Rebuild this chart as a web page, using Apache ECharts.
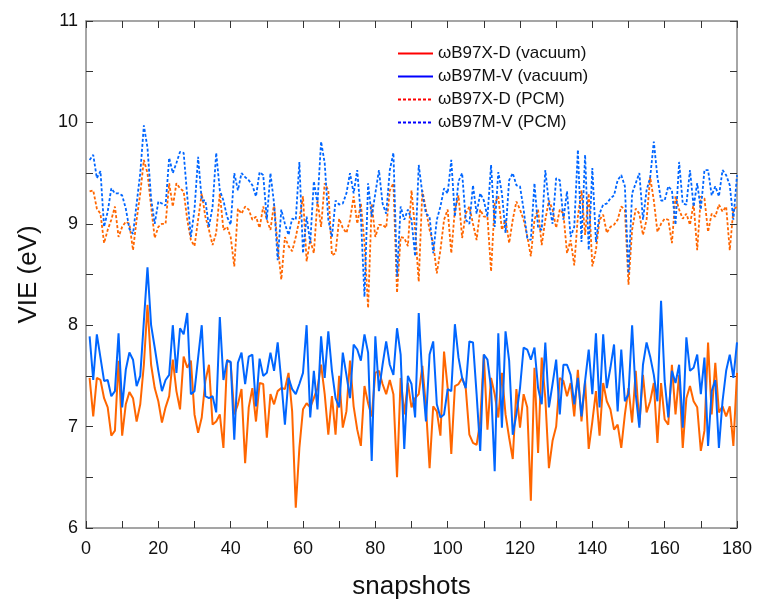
<!DOCTYPE html>
<html>
<head>
<meta charset="utf-8">
<script src="https://cdn.jsdelivr.net/npm/echarts@6/dist/echarts.min.js"></script>
<style>
  html, body { margin: 0; padding: 0; background: #fff; }
  #vie-chart { width: 760px; height: 605px; }
</style>
</head>
<body>
<div id="vie-chart"></div>
<script>
// VIE per snapshot, four methods
const xdVacuum = [
  7.48, 7.1, 7.48, 7.46, 7.28, 7.19, 6.91, 6.96, 7.65, 6.91, 7.22, 7.34, 7.28, 7.05, 7.22, 7.61, 8.2, 7.61, 7.38, 7.25, 7.04, 7.19, 7.3, 7.66,
  7.35, 7.17, 7.69, 7.58, 7.65, 7.12, 6.94, 7.09, 7.45, 7.61, 7.02, 7.05, 7.12, 6.79, 7.66, 7.63, 7.12, 7.22, 7.37, 6.64, 7.19, 7.38, 7.05, 7.43, 7.42, 6.89, 7.32, 7.22, 7.35, 7.38, 7.37,
  7.53, 7.15, 6.2, 6.79, 7.17, 7.23, 7.19, 7.28, 7.38, 7.61, 7.32, 6.92, 7.3, 6.92, 7.5, 6.99, 7.15, 7.65, 7.2, 6.97, 6.81, 7.4, 7.23, 7.1, 7.53, 7.55, 7.42, 7.32, 7.46, 7.32, 6.5,
  7.48, 7.12, 7.43, 7.19, 7.28, 7.32, 7.6, 7.19, 6.59, 7.2, 7.15, 6.91, 7.74, 7.38, 6.73, 7.4, 7.42, 7.48, 7.38, 6.92, 6.84, 6.82, 7.05, 7.71, 6.97, 7.48, 7.32, 7.09, 7.53, 7.12, 6.89,
  6.68, 7.37, 6.99, 7.32, 7.19, 6.27, 7.58, 6.74, 7.68, 7.28, 6.59, 6.86, 7.0, 7.48, 7.45, 7.3, 7.43, 7.1, 7.56, 7.05, 7.45, 6.78, 7.05, 7.35, 6.91, 7.43, 7.25, 7.17, 6.97, 7.02, 6.79, 7.12,
  7.38, 7.04, 7.55, 7.02, 7.51, 7.14, 7.25, 7.43, 6.84, 7.43, 7.07, 7.02, 7.61, 7.12, 7.51, 6.79, 7.28, 7.4, 7.25, 7.19, 6.76, 6.96, 7.83, 7.12, 7.63, 7.14, 7.2, 7.1, 7.2, 6.81, 7.53
]
const mvVacuum = [
  7.89, 7.46, 7.91, 7.68, 7.45, 7.46, 7.3, 7.35, 7.92, 7.19, 7.56, 7.73, 7.66, 7.4, 7.5, 8.04, 8.57, 8.0, 7.78, 7.55, 7.35, 7.46, 7.51, 8.0,
  7.53, 7.97, 7.91, 8.12, 7.32, 7.35, 7.68, 8.0, 7.3, 7.28, 7.3, 7.14, 8.08, 7.46, 7.65, 7.64, 6.87, 7.63, 7.73, 7.42, 7.69, 7.71, 7.2, 7.67, 7.5, 7.53, 7.73, 7.55, 7.83, 7.45, 7.02,
  7.48, 7.37, 7.32, 7.42, 7.53, 8.0, 7.09, 7.55, 7.17, 7.89, 7.48, 7.94, 7.55, 7.28, 7.19, 7.73, 7.51, 7.28, 7.81, 7.76, 7.65, 7.91, 7.73, 6.66, 7.89, 7.35, 7.61, 7.84, 7.61, 7.51, 7.97,
  7.71, 6.78, 7.5, 7.42, 7.09, 8.12, 7.48, 7.05, 7.71, 7.84, 7.22, 7.09, 7.12, 7.37, 7.35, 8.01, 7.68, 7.48, 7.38, 7.84, 7.83, 7.32, 6.76, 7.71, 7.66, 7.38, 6.56, 7.92, 6.99, 7.94, 7.65,
  6.92, 7.12, 7.38, 7.78, 7.76, 7.66, 7.78, 7.38, 7.22, 7.83, 7.19, 7.42, 7.66, 7.12, 7.61, 7.61, 7.51, 7.22, 7.48, 7.1, 7.45, 7.76, 7.32, 7.92, 7.19, 7.91, 7.38, 7.58, 7.81, 7.15, 7.76, 7.25,
  7.32, 8.0, 7.32, 6.99, 7.61, 7.83, 7.69, 7.51, 7.25, 8.24, 7.45, 7.09, 7.55, 7.43, 7.61, 6.99, 7.88, 7.55, 7.58, 7.71, 7.32, 7.68, 6.81, 7.35, 7.46, 6.79, 7.25, 7.55, 7.71, 7.48, 7.83
]
const xdPCM = [
  9.32, 9.33, 9.15, 9.1, 8.81, 8.94, 9.04, 9.17, 8.87, 8.97, 9.02, 9.0, 8.74, 9.04, 9.3, 9.63, 9.5, 9.17, 8.86, 8.97, 9.0, 9.0, 9.4, 9.17,
  9.4, 9.35, 9.32, 9.04, 8.84, 8.78, 9.04, 9.3, 9.07, 8.94, 8.79, 8.91, 9.3, 8.94, 8.97, 8.87, 8.58, 9.15, 9.1, 9.17, 9.14, 9.04, 9.07, 8.96, 9.17, 9.04, 8.94, 9.2, 8.78, 8.45, 8.87,
  8.78, 8.73, 8.87, 9.04, 9.27, 8.63, 8.84, 8.71, 9.23, 8.97, 9.4, 9.33, 8.69, 8.71, 9.05, 8.96, 8.91, 9.04, 9.27, 9.0, 9.2, 8.81, 8.17, 9.2, 8.87, 8.99, 8.99, 8.96, 9.33, 9.4, 8.32,
  8.87, 8.86, 8.78, 9.33, 8.94, 8.43, 9.33, 9.14, 8.94, 8.81, 8.51, 8.74, 9.04, 9.14, 8.71, 9.14, 9.28, 8.86, 9.1, 9.17, 9.0, 8.84, 9.14, 9.07, 9.07, 8.53, 9.2, 9.27, 8.94, 9.04, 8.81,
  9.04, 9.22, 9.14, 9.04, 8.88, 8.68, 9.04, 9.14, 8.79, 9.04, 9.23, 9.14, 8.96, 9.14, 9.1, 8.71, 8.84, 8.59, 9.07, 9.33, 8.89, 9.3, 8.58, 8.74, 9.04, 9.09, 8.91, 8.97, 8.99, 9.04, 9.17, 9.14,
  8.4, 8.94, 9.15, 9.1, 8.89, 9.04, 9.46, 9.23, 8.92, 9.0, 9.05, 9.04, 8.81, 9.27, 9.14, 9.05, 9.1, 8.99, 9.2, 8.74, 9.27, 9.25, 8.92, 9.1, 9.07, 9.19, 9.12, 9.17, 8.74, 9.14, 9.17
]
const mvPCM = [
  9.63, 9.68, 9.45, 9.52, 8.97, 9.12, 9.35, 9.3, 9.3, 9.28, 9.15, 8.95, 8.9, 9.2, 9.5, 9.97, 9.75, 9.25, 9.0, 9.22, 9.2, 9.18, 9.65, 9.5,
  9.6, 9.71, 9.7, 9.27, 8.87, 9.14, 9.66, 9.23, 9.23, 8.97, 9.17, 9.7, 9.33, 9.23, 9.07, 8.99, 9.5, 9.33, 9.5, 9.46, 9.43, 9.38, 9.27, 9.51, 9.48, 9.04, 9.5, 9.2, 8.64, 9.14, 9.0,
  8.89, 9.05, 9.04, 9.61, 8.71, 9.07, 8.81, 9.42, 9.2, 9.81, 9.6, 9.04, 8.87, 9.23, 9.19, 9.2, 9.3, 9.5, 9.3, 9.53, 9.07, 8.28, 9.4, 9.07, 9.3, 9.53, 9.2, 9.1, 9.53, 9.7, 8.48,
  9.17, 9.04, 9.14, 9.04, 8.68, 9.58, 9.3, 9.1, 9.07, 8.71, 9.04, 9.17, 9.35, 9.3, 9.63, 9.07, 9.42, 9.5, 9.04, 9.0, 9.38, 9.1, 9.3, 9.23, 9.07, 9.58, 8.97, 9.51, 9.3, 8.91, 9.43,
  9.5, 9.38, 9.37, 9.14, 8.86, 8.84, 9.4, 8.96, 8.94, 9.53, 9.2, 9.0, 9.45, 9.43, 9.04, 9.32, 8.87, 8.97, 9.73, 8.82, 9.68, 8.74, 9.55, 8.82, 9.1, 9.19, 9.2, 9.25, 9.28, 9.43, 9.48, 9.37,
  8.51, 9.3, 9.4, 9.5, 9.04, 9.33, 9.46, 9.81, 9.46, 9.23, 9.23, 9.37, 9.33, 8.99, 9.61, 9.2, 9.19, 9.53, 9.17, 9.4, 9.14, 9.53, 9.53, 9.28, 9.37, 9.27, 9.53, 9.48, 9.38, 9.04, 9.48
]
const seriesNames = ['ωB97X-D (vacuum)', 'ωB97M-V (vacuum)', 'ωB97X-D (PCM)', 'ωB97M-V (PCM)']
// legend swatches are pure red / blue in the figure
const legendColors = ['#ff0000', '#0000ff', '#ff0000', '#0000ff']
const snapshots = xdVacuum.map((v, i) => i + 1)

const FONT = 'Liberation Sans, Arial, Helvetica, sans-serif'
const ORANGE = '#ff6600'
const BLUE = '#0066ff'

function pairs(values) {
  return values.map((v, i) => [snapshots[i], v])
}

function makeLine(name, values, color, dashed) {
  return {
    name: name,
    type: 'line',
    data: pairs(values),
    symbol: 'none',
    lineStyle: {
      color: color,
      width: dashed ? 1.8 : 2,
      type: dashed ? [3, 2] : 'solid'
    },
    itemStyle: { color: color },
    animation: false
  }
}

const axisCommon = {
  axisLine: { show: true, onZero: false, lineStyle: { color: '#888', width: 1.5 } },
  axisTick: { show: true, inside: true, length: 7, lineStyle: { color: '#333' } },
  minorTick: { show: true, splitNumber: 2, length: 7, lineStyle: { color: '#333' } },
  splitLine: { show: false }
}

let myChart = echarts.init(document.getElementById('vie-chart'))
myChart.setOption({
  backgroundColor: '#fff',
  grid: { left: 86, right: 23, top: 21, bottom: 77 },
  legend: {
    show: true,
    orient: 'vertical',
    left: 392,
    top: 40,
    itemWidth: 35,
    itemHeight: 12,
    itemGap: 6,
    textStyle: { fontFamily: FONT, fontSize: 17, color: '#111' },
    data: seriesNames.map((n, i) => ({
      name: n,
      // hide the symbol, keep only the line
      itemStyle: { color: 'rgba(0,0,0,0)', borderColor: 'rgba(0,0,0,0)', borderWidth: 0 },
      lineStyle: { color: legendColors[i], width: 2 }
    }))
  },
  xAxis: [
    Object.assign({}, axisCommon, {
      type: 'value',
      min: 0,
      max: 180,
      interval: 20,
      name: 'snapshots',
      nameLocation: 'middle',
      nameGap: 46,
      nameTextStyle: { fontFamily: FONT, fontSize: 26, color: '#111' },
      axisLabel: { fontFamily: FONT, fontSize: 18, color: '#111', margin: 12 }
    }),
    Object.assign({}, axisCommon, {
      type: 'value',
      position: 'top',
      min: 0,
      max: 180,
      interval: 20,
      axisLabel: { show: false }
    })
  ],
  yAxis: [
    Object.assign({}, axisCommon, {
      type: 'value',
      min: 6,
      max: 11,
      interval: 1,
      name: 'VIE (eV)',
      nameLocation: 'middle',
      nameGap: 44,
      nameTextStyle: { fontFamily: FONT, fontSize: 26, color: '#111' },
      axisLabel: { fontFamily: FONT, fontSize: 18, color: '#111', margin: 8 }
    }),
    Object.assign({}, axisCommon, {
      type: 'value',
      position: 'right',
      min: 6,
      max: 11,
      interval: 1,
      axisLabel: { show: false }
    })
  ],
  series: [
    makeLine(seriesNames[0], xdVacuum, ORANGE, false),
    makeLine(seriesNames[1], mvVacuum, BLUE, false),
    makeLine(seriesNames[2], xdPCM, ORANGE, true),
    makeLine(seriesNames[3], mvPCM, BLUE, true)
  ]
})
</script>
</body>
</html>
